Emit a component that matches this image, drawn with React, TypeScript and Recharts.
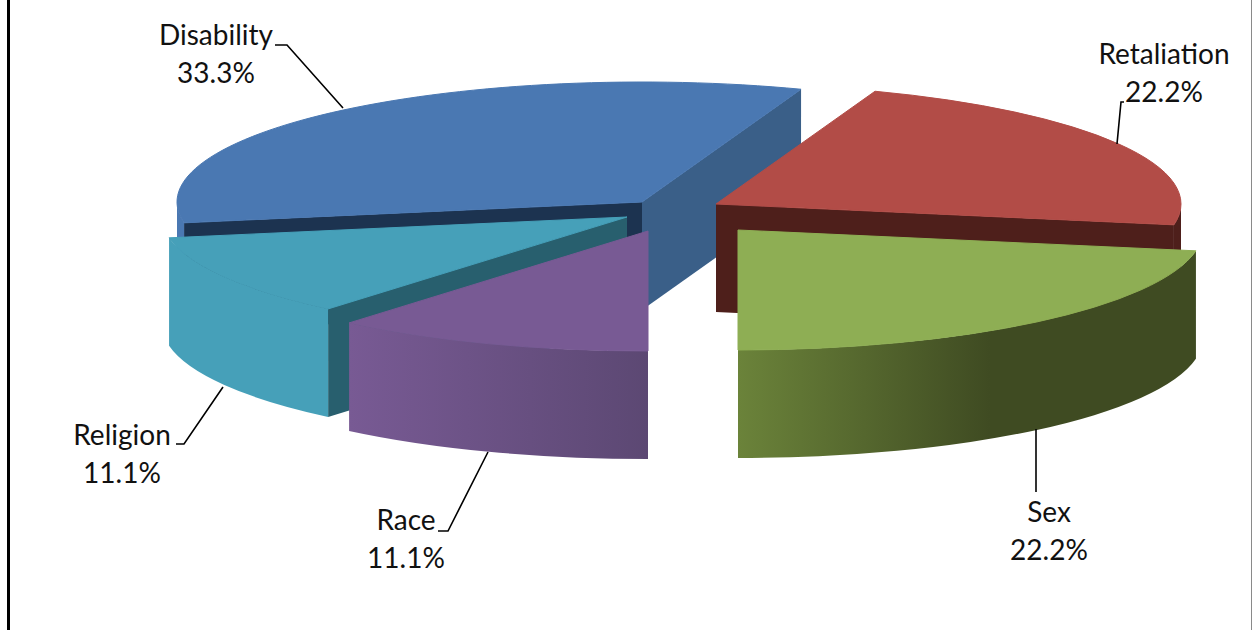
import React from "react";
import { PieChart, Pie } from "recharts";

const categories = ["Disability", "Retaliation", "Sex", "Race", "Religion"];
const counts = [3, 2, 2, 1, 1];

const chartData = categories.map((name, i) => ({ name, value: counts[i] }));

const FONT = "Lato, Carlito, Calibri, sans-serif";
const RX = 465;
const RY = 120;
const DEPTH = 108;
const CX = 680;
const CY = 220;

type Look = {
  dx: number;
  dy: number;
  top: string;
  edgeStart: string;
  edgeEnd: string;
  wallFrom: string;
  wallTo: string;
  wallStop: number;
};

const looks: Record<string, Look> = {
  Disability: { dx: -38, dy: -18, top: "#4a78b2", edgeStart: "#1c3350", edgeEnd: "#3a5f88", wallFrom: "#4a78b2", wallTo: "#4a78b2", wallStop: 1 },
  Retaliation: { dx: 36, dy: -16, top: "#b24c47", edgeStart: "#4e1f1b", edgeEnd: "#4e1f1b", wallFrom: "#4e1f1b", wallTo: "#4e1f1b", wallStop: 1 },
  Sex: { dx: 58, dy: 10, top: "#8eae54", edgeStart: "#6f8a3c", edgeEnd: "#6f8a3c", wallFrom: "#6b833a", wallTo: "#3f4b22", wallStop: 0.55 },
  Race: { dx: -32, dy: 11, top: "#785a94", edgeStart: "#5c4873", edgeEnd: "#5c4873", wallFrom: "#785a94", wallTo: "#5c4873", wallStop: 1 },
  Religion: { dx: -53, dy: -3, top: "#46a0b9", edgeStart: "#285f6e", edgeEnd: "#285f6e", wallFrom: "#46a0b9", wallTo: "#46a0b9", wallStop: 1 },
};

type Callout = { x: number; y: number; leader: [number, number][] };

const callouts: Record<string, Callout> = {
  Disability: { x: 216, y: 45, leader: [[343, 108], [287, 45], [275, 45]] },
  Retaliation: { x: 1164, y: 64, leader: [[1117, 144], [1121, 102], [1124, 102]] },
  Sex: { x: 1049, y: 522, leader: [[1036, 429], [1036, 492]] },
  Race: { x: 406, y: 530, leader: [[488, 452], [448, 531], [438, 531]] },
  Religion: { x: 122, y: 445, leader: [[223, 387], [184, 444], [176, 444]] },
};

const rad = (a: number) => (a * Math.PI) / 180;

function Slice3D(props: any) {
  const name: string = props.name ?? props.payload?.name;
  const look = looks[name];
  const ax = props.cx + look.dx;
  const ay = props.cy + look.dy;
  const rx = props.outerRadius;
  const ry = (rx * RY) / RX;
  const pt = (a: number): [number, number] => [ax + rx * Math.cos(rad(a)), ay - ry * Math.sin(rad(a))];
  const s: number = props.startAngle;
  const e: number = props.endAngle;
  const ps = pt(s);
  const pe = pt(e);
  const large = Math.abs(s - e) > 180 ? 1 : 0;
  const top = `M${ax},${ay} L${ps[0]},${ps[1]} A${rx},${ry} 0 ${large} 1 ${pe[0]},${pe[1]} Z`;
  const edge = (p: [number, number]) =>
    `M${ax},${ay} L${p[0]},${p[1]} L${p[0]},${p[1] + DEPTH} L${ax},${ay + DEPTH} Z`;

  // the part of the rim that faces the viewer: screen-lower half, angles in (-180, 0) modulo 360
  const frontArcs: [number, number][] = [];
  for (const k of [-360, 0, 360]) {
    const hi = Math.min(s, k);
    const lo = Math.max(e, k - 180);
    if (hi > lo) frontArcs.push([hi, lo]);
  }
  const gid = `wall-${name}`;
  return (
    <g>
      <defs>
        <linearGradient id={gid} x1="0" y1="0" x2="1" y2="0">
          <stop offset="0" stopColor={look.wallFrom} />
          <stop offset={look.wallStop} stopColor={look.wallTo} />
          <stop offset="1" stopColor={look.wallTo} />
        </linearGradient>
      </defs>
      {Math.cos(rad(s)) < -0.01 && <path d={edge(ps)} fill={look.edgeStart} />}
      {Math.cos(rad(e)) > 0.01 && <path d={edge(pe)} fill={look.edgeEnd} />}
      {frontArcs.map(([a, b], i) => {
        const p = pt(a);
        const q = pt(b);
        return (
          <path
            key={i}
            fill={`url(#${gid})`}
            d={`M${p[0]},${p[1]} A${rx},${ry} 0 0 1 ${q[0]},${q[1]} L${q[0]},${q[1] + DEPTH} A${rx},${ry} 0 0 0 ${p[0]},${p[1] + DEPTH} Z`}
          />
        );
      })}
      <path d={top} fill={look.top} stroke={look.top} strokeWidth={1} strokeLinejoin="round" />
    </g>
  );
}

const lowerSlices = (props: any) => ((props.name ?? props.payload?.name) === "Race" ? <g /> : <Slice3D {...props} />);
const upperSlice = (props: any) => ((props.name ?? props.payload?.name) === "Race" ? <Slice3D {...props} /> : <g />);

function SliceLabel(props: any) {
  const name: string = props.name ?? props.payload?.name;
  const c = callouts[name];
  const pct = `${(props.percent * 100).toFixed(1)}%`;
  return (
    <g>
      <polyline points={c.leader.map((p) => p.join(",")).join(" ")} fill="none" stroke="#000" strokeWidth={1.6} />
      <text x={c.x} y={c.y} textAnchor="middle" fontFamily={FONT} fontSize={28} fill="#111">{name}</text>
      <text x={c.x} y={c.y + 38} textAnchor="middle" fontFamily={FONT} fontSize={28} fill="#111">{pct}</text>
    </g>
  );
}

export default function App() {
  return (
    <div style={{ position: "absolute", left: 0, top: 0, width: 1253, height: 630, background: "#fff", overflow: "hidden" }}>
      <div style={{ position: "absolute", left: 7, top: 0, width: 3, height: 630, background: "#000" }} />
      <div style={{ position: "absolute", left: 1251, top: 0, width: 1, height: 630, background: "#8a8a8a" }} />
      <PieChart width={1253} height={630} margin={{ top: 0, right: 0, bottom: 0, left: 0 }} style={{ position: "absolute", left: 0, top: 0 }}>
        <Pie
          data={chartData}
          dataKey="value"
          nameKey="name"
          cx={CX}
          cy={CY}
          outerRadius={RX}
          startAngle={190}
          endAngle={-170}
          paddingAngle={0}
          stroke="none"
          isAnimationActive={false}
          shape={lowerSlices}
          label={SliceLabel}
          labelLine={false}
        />
        <Pie
          data={chartData}
          dataKey="value"
          nameKey="name"
          cx={CX}
          cy={CY}
          outerRadius={RX}
          startAngle={190}
          endAngle={-170}
          paddingAngle={0}
          stroke="none"
          isAnimationActive={false}
          shape={upperSlice}
          label={false}
          labelLine={false}
        />
      </PieChart>
    </div>
  );
}
